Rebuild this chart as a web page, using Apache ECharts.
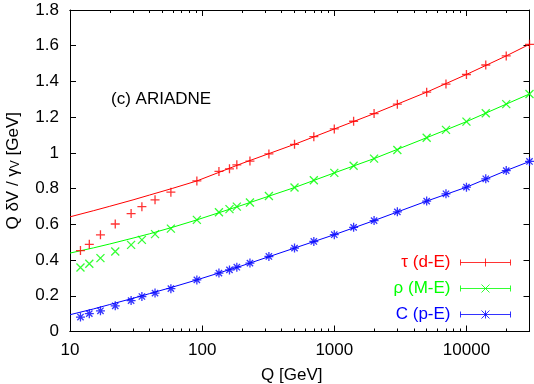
<!DOCTYPE html>
<html>
<head>
<meta charset="utf-8">
<script src="https://cdn.jsdelivr.net/npm/echarts@6/dist/echarts.min.js"></script>
<style>html,body{margin:0;padding:0;background:#fff}#c{width:534px;height:384px}</style>
</head>
<body>
<div id="c"></div>
<script>
// Data
const qVals = [12,14,17,22,29,35,44,58,91.2,134,161,183,230,320,500,700,1000,1400,2000,3000,5000,7000,10000,14000,20000,30000];
const tauVals = [0.453,0.488,0.541,0.602,0.660,0.699,0.737,0.780,0.843,0.896,0.911,0.933,0.954,0.994,1.048,1.091,1.134,1.177,1.220,1.273,1.340,1.385,1.439,1.492,1.543,1.608];
const rhoVals = [0.358,0.379,0.411,0.448,0.485,0.513,0.545,0.576,0.625,0.668,0.685,0.699,0.722,0.759,0.806,0.847,0.888,0.928,0.968,1.016,1.085,1.129,1.175,1.222,1.273,1.330];
const cVals = [0.081,0.100,0.116,0.144,0.173,0.196,0.215,0.240,0.289,0.327,0.345,0.360,0.383,0.420,0.467,0.504,0.542,0.583,0.621,0.670,0.730,0.771,0.808,0.855,0.901,0.952];

// Fitted curves
const fitQ = [10,15,20,30,40,60,91.2,200,500,1000,2000,5000,10000,20000,30000];
const tauFit = [0.642,0.676,0.701,0.737,0.764,0.802,0.843,0.941,1.048,1.134,1.220,1.340,1.439,1.543,1.608];
const rhoFit = [0.439,0.468,0.490,0.523,0.547,0.584,0.625,0.707,0.806,0.888,0.968,1.085,1.175,1.273,1.330];
const cFit = [0.094,0.126,0.151,0.186,0.212,0.249,0.289,0.368,0.467,0.542,0.621,0.730,0.808,0.901,0.952];

const seriesNames = ['τ (d-E)', 'ρ (M-E)', 'C (p-E)'];
const majorX = [10,100,1000,10000];
const minorX = [20,30,40,50,60,70,80,90,200,300,400,500,600,700,800,900,2000,3000,4000,5000,6000,7000,8000,9000,20000];

const RED = '#ff0000', GREEN = '#00ff00', BLUE = '#0000ff';
const FONT = 'Liberation Sans, Arial, Helvetica, sans-serif';

const symPlus = 'path://M5,0L5,10M0,5L10,5';
const symX = 'path://M0,0L10,10M0,10L10,0';
const symStar = 'path://M5,0L5,10M0,5L10,5M1.5,1.5L8.5,8.5M1.5,8.5L8.5,1.5';

const legPlus = 'path://M0,4L50,4M0,1L0,7M50,1L50,7M25,0L25,8';
const legX = 'path://M0,4L50,4M0,1L0,7M50,1L50,7M21,0L29,8M21,8L29,0';
const legStar = 'path://M0,4L50,4M0,1L0,7M50,1L50,7M25,0L25,8M21,0L29,8M21,8L29,0';

const zip = (a, b) => a.map((v, i) => [v, b[i]]);

const chart = echarts.init(document.getElementById('c'), null, {renderer: 'canvas'});

function xAxisDef(pos, showLabel, ticks, len) {
  return {
    type: 'log', logBase: 10, min: 10, max: 30000, position: pos,
    axisLine: {show: true, onZero: false, lineStyle: {color: '#000', width: 1}},
    axisTick: {show: true, inside: true, length: len, customValues: ticks, lineStyle: {color: '#000'}},
    axisLabel: {show: showLabel, customValues: majorX, color: '#000', fontSize: 17, fontFamily: FONT, margin: 10,
                formatter: v => String(Math.round(v))},
    splitLine: {show: false}, minorTick: {show: false}
  };
}

const option = {
  animation: false,
  backgroundColor: '#fff',
  grid: {left: 70, right: 4.5, top: 10, bottom: 52.5, containLabel: false, outerBoundsMode: 'none'},
  xAxis: [
    Object.assign(xAxisDef('bottom', true, majorX, 6), {
      name: 'Q [GeV]', nameLocation: 'middle', nameGap: 35,
      nameTextStyle: {color: '#000', fontSize: 17, fontFamily: FONT, padding: [0, 16, 0, 0]}
    }),
    xAxisDef('bottom', false, minorX, 3),
    xAxisDef('top', false, majorX, 6),
    xAxisDef('top', false, minorX, 3)
  ],
  yAxis: [
    {
      type: 'value', min: 0, max: 1.8, interval: 0.2, position: 'left',
      axisLine: {show: true, lineStyle: {color: '#000'}},
      axisTick: {show: true, inside: true, length: 6, lineStyle: {color: '#000'}},
      axisLabel: {color: '#000', fontSize: 17, fontFamily: FONT, margin: 11},
      splitLine: {show: false},
      name: '{a|Q δV / γ}{s|V}{a| [GeV]}', nameLocation: 'middle', nameGap: 48, nameRotate: 90,
      nameTextStyle: {color: '#000', fontFamily: FONT,
        rich: {a: {fontSize: 17, fontFamily: FONT, color: '#000'},
               s: {fontSize: 12, fontFamily: FONT, color: '#000', verticalAlign: 'bottom', padding: [6, 0, 0, 0]}}}
    },
    {
      type: 'value', min: 0, max: 1.8, interval: 0.2, position: 'right',
      axisLine: {show: true, lineStyle: {color: '#000'}},
      axisTick: {show: true, inside: true, length: 6, lineStyle: {color: '#000'}},
      axisLabel: {show: false}, splitLine: {show: false}
    }
  ],
  legend: {
    orient: 'vertical', right: 21, top: 254, align: 'right', padding: 0,
    itemWidth: 50, itemHeight: 8, itemGap: 9,
    textStyle: {fontSize: 17, fontFamily: FONT, padding: [0, 5, 0, 0]},
    selectedMode: false,
    data: [
      {name: seriesNames[0], icon: legPlus, textStyle: {color: RED}, itemStyle: {color: 'none', borderColor: RED, borderWidth: 1}},
      {name: seriesNames[1], icon: legX, textStyle: {color: GREEN}, itemStyle: {color: 'none', borderColor: GREEN, borderWidth: 1}},
      {name: seriesNames[2], icon: legStar, textStyle: {color: BLUE}, itemStyle: {color: 'none', borderColor: BLUE, borderWidth: 1}}
    ]
  },
  graphic: [{
    type: 'text', left: 111, top: 91,
    style: {text: '(c) ARIADNE', font: '17px ' + FONT, fill: '#000'}
  }],
  series: [
    {type: 'line', name: 'tauFit', data: zip(fitQ, tauFit), showSymbol: false,
     lineStyle: {color: RED, width: 1}, itemStyle: {color: RED}, silent: true, z: 2},
    {type: 'line', name: 'rhoFit', data: zip(fitQ, rhoFit), showSymbol: false,
     lineStyle: {color: GREEN, width: 1}, itemStyle: {color: GREEN}, silent: true, z: 2},
    {type: 'line', name: 'cFit', data: zip(fitQ, cFit), showSymbol: false,
     lineStyle: {color: BLUE, width: 1}, itemStyle: {color: BLUE}, silent: true, z: 2},
    {type: 'scatter', name: seriesNames[0], data: zip(qVals, tauVals), symbol: symPlus, symbolSize: 9,
     itemStyle: {color: 'none', borderColor: RED, borderWidth: 1.3}, z: 3},
    {type: 'scatter', name: seriesNames[1], data: zip(qVals, rhoVals), symbol: symX, symbolSize: 8,
     itemStyle: {color: 'none', borderColor: GREEN, borderWidth: 1.3}, z: 3},
    {type: 'scatter', name: seriesNames[2], data: zip(qVals, cVals), symbol: symStar, symbolSize: 9,
     itemStyle: {color: 'none', borderColor: BLUE, borderWidth: 1.3}, z: 3}
  ]
};
chart.setOption(option);
</script>
</body>
</html>
